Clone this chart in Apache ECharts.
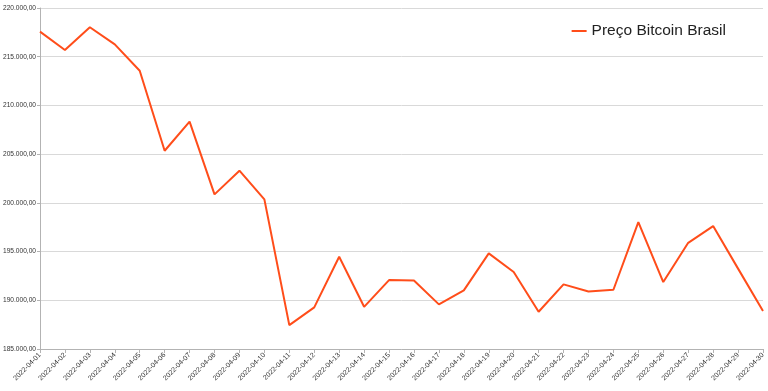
<!DOCTYPE html>
<html>
<head>
<meta charset="utf-8">
<script src="https://cdn.jsdelivr.net/npm/echarts@6/dist/echarts.min.js"></script>
<style>html,body{margin:0;padding:0;background:#fff}#c{width:768px;height:391px}</style>
</head>
<body>
<div id="c"></div>
<script>
const categories = ["2022-04-01","2022-04-02","2022-04-03","2022-04-04","2022-04-05","2022-04-06","2022-04-07","2022-04-08","2022-04-09","2022-04-10","2022-04-11","2022-04-12","2022-04-13","2022-04-14","2022-04-15","2022-04-16","2022-04-17","2022-04-18","2022-04-19","2022-04-20","2022-04-21","2022-04-22","2022-04-23","2022-04-24","2022-04-25","2022-04-26","2022-04-27","2022-04-28","2022-04-29","2022-04-30"];
const seriesName = "Preço Bitcoin Brasil";
const prices = [217570,215690,218020,216270,213560,205350,208330,200870,203300,200360,187450,189270,194470,189330,192070,192040,189580,191020,194820,192900,188820,191630,190910,191080,198030,191870,195900,197620,193250,188890];
const yMin = 185000, yMax = 220000, yStep = 5000;

function fmt(v){
  const s = Math.round(v).toString().replace(/\B(?=(\d{3})+(?!\d))/g, ".");
  return s + ",00";
}

const chart = echarts.init(document.getElementById('c'), null, {renderer:'canvas'});
chart.setOption({
  animation:false,
  backgroundColor:'#ffffff',
  grid:{left:40,right:5,top:8,bottom:42,containLabel:false,outerBoundsMode:'none'},
  legend:{
    show:true,
    right:37, top:18,
    icon:'rect', itemWidth:15, itemHeight:2, itemGap:5,
    textStyle:{fontFamily:'Liberation Sans', fontSize:15.5, color:'#222'},
    data:[seriesName]
  },
  xAxis:{
    type:'category',
    data:categories,
    boundaryGap:false,
    axisLine:{show:true,lineStyle:{color:'#b3b3b3',width:1}},
    axisTick:{show:true,length:4,lineStyle:{color:'#b3b3b3'}},
    axisLabel:{rotate:45,fontSize:7,color:'#333',fontFamily:'Liberation Sans',interval:0,margin:5},
    splitLine:{show:false}
  },
  yAxis:{
    type:'value',
    min:yMin,max:yMax,interval:yStep,
    axisLine:{show:true,lineStyle:{color:'#b3b3b3',width:1}},
    axisTick:{show:true,length:3,lineStyle:{color:'#b3b3b3'}},
    axisLabel:{fontSize:6.6,color:'#333',fontFamily:'Liberation Sans',margin:4,formatter:fmt},
    splitLine:{show:true,lineStyle:{color:'#d9d9d9',width:1}}
  },
  series:[{
    name:seriesName,
    type:'line',
    data:prices,
    symbol:'none',
    lineStyle:{color:'#ff4d1a',width:2},
    itemStyle:{color:'#ff4d1a'}
  }]
});
</script>
</body>
</html>
